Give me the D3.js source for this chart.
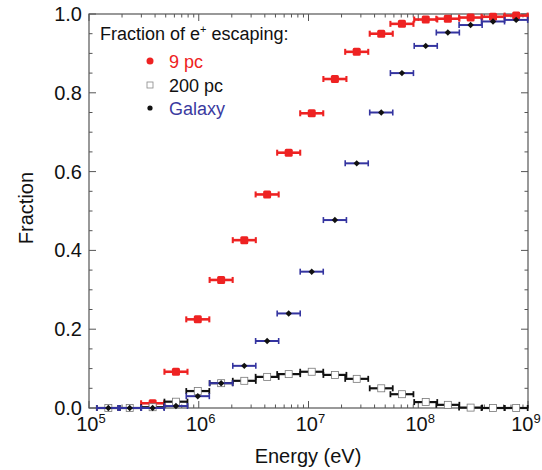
<!DOCTYPE html>
<html><head><meta charset="utf-8">
<script src="https://cdn.jsdelivr.net/npm/d3@7"></script>
<style>body{margin:0;background:#fff}svg{display:block;font-family:"Liberation Sans",Arial,sans-serif}</style>
</head><body><svg id="c" width="542" height="470"></svg>
<script>
// Bin centre energies (eV)
const energies = [1.5e5, 2.35e5, 3.8e5, 6.2e5, 9.8e5, 1.6e6, 2.6e6, 4.2e6, 6.6e6, 1.07e7, 1.74e7, 2.75e7, 4.6e7, 7.1e7, 1.17e8, 1.86e8, 3.0e8, 4.8e8, 7.8e8];
const pc9    = [null, null, 0.012, 0.092, 0.225, 0.325, 0.426, 0.542, 0.648, 0.748, 0.835, 0.904, 0.950, 0.975, 0.986, 0.988, 0.991, 0.993, 0.996];
const pc200  = [0.0, 0.0, 0.002, 0.016, 0.043, 0.063, 0.069, 0.079, 0.086, 0.092, 0.084, 0.074, 0.050, 0.035, 0.015, 0.008, 0.001, 0.0, 0.0];
const galaxy = [0.0, 0.0, 0.0, 0.005, 0.030, 0.063, 0.107, 0.170, 0.240, 0.346, 0.477, 0.621, 0.750, 0.850, 0.919, 0.953, 0.972, 0.981, 0.985];
const xTickExps = [5, 6, 7, 8, 9];
const yTicks = [0.0, 0.2, 0.4, 0.6, 0.8, 1.0];
const binHalfWidthDex = 0.105;

const svg = d3.select("#c");
const L = 89, R = 528, T = 14, B = 408;
const x = d3.scaleLog().domain([1e5, 1e9]).range([L, R]);
const y = d3.scaleLinear().domain([0, 1]).range([B, T]);

const RED = "#ee2222", BLUE = "#3434a0", BLACK = "#111";

// frame
svg.append("rect").attr("x", L).attr("y", T).attr("width", R - L).attr("height", B - T)
  .attr("fill", "none").attr("stroke", "#555").attr("stroke-width", 1.2);

// ticks (inward, all sides)
const tg = svg.append("g").attr("stroke", "#555").attr("stroke-width", 1);
const minorX = [];
for (let e = 5; e < 9; e++) for (let m = 2; m <= 9; m++) minorX.push(m * Math.pow(10, e));
xTickExps.forEach(e => {
  const px = x(Math.pow(10, e));
  tg.append("line").attr("x1", px).attr("x2", px).attr("y1", B).attr("y2", B - 7);
  tg.append("line").attr("x1", px).attr("x2", px).attr("y1", T).attr("y2", T + 7);
});
minorX.forEach(v => {
  const px = x(v);
  tg.append("line").attr("x1", px).attr("x2", px).attr("y1", B).attr("y2", B - 3.5);
  tg.append("line").attr("x1", px).attr("x2", px).attr("y1", T).attr("y2", T + 3.5);
});
d3.range(0, 1.0001, 0.05).forEach(v => {
  const py = y(v);
  const major = Math.abs(v * 5 - Math.round(v * 5)) < 1e-6;
  const len = major ? 7 : 3.5;
  tg.append("line").attr("x1", L).attr("x2", L + len).attr("y1", py).attr("y2", py);
  tg.append("line").attr("x1", R).attr("x2", R - len).attr("y1", py).attr("y2", py);
});

// y tick labels
svg.append("g").selectAll("text").data(yTicks).join("text")
  .attr("x", 82).attr("y", d => y(d) + 7).attr("text-anchor", "end")
  .attr("font-size", 20).attr("fill", "#111").text(d => d.toFixed(1));

// x tick labels 10^n
xTickExps.forEach(e => {
  const t = svg.append("text").attr("x", Math.min(x(Math.pow(10, e)) + 2, 526)).attr("y", 431)
    .attr("text-anchor", "middle").attr("font-size", 20).attr("fill", "#111");
  t.append("tspan").text("10");
  t.append("tspan").attr("font-size", 13).attr("dy", -8).text(String(e));
});

svg.append("text").attr("x", 308).attr("y", 463).attr("text-anchor", "middle")
  .attr("font-size", 20).attr("fill", "#111").text("Energy (eV)");
svg.append("text").attr("transform", "translate(33,208) rotate(-90)").attr("text-anchor", "middle")
  .attr("font-size", 20).attr("fill", "#111").text("Fraction");

// error bar drawing
function drawSeries(vals, color, sw, capH, marker) {
  const g = svg.append("g");
  energies.forEach((e, i) => {
    const v = vals[i];
    if (v === null) return;
    const x0 = x(e / Math.pow(10, binHalfWidthDex)), x1 = x(e * Math.pow(10, binHalfWidthDex));
    const py = y(v);
    g.append("line").attr("x1", x0).attr("x2", x1).attr("y1", py).attr("y2", py)
      .attr("stroke", color).attr("stroke-width", sw);
    [x0, x1].forEach(cx => g.append("line").attr("x1", cx).attr("x2", cx)
      .attr("y1", py - capH).attr("y2", py + capH).attr("stroke", color).attr("stroke-width", sw * 0.8));
    marker(g, x(e), py);
  });
}
const redMarker = (g, cx, cy) => g.append("rect").attr("x", cx - 4).attr("y", cy - 4).attr("width", 8).attr("height", 8).attr("rx", 1.5).attr("fill", RED);
const whiteSq = (g, cx, cy) => g.append("rect").attr("x", cx - 3.5).attr("y", cy - 3.5).attr("width", 7).attr("height", 7).attr("fill", "#fff").attr("stroke", "#777").attr("stroke-width", 0.8);
const blackDot = (g, cx, cy) => g.append("path").attr("d", `M${cx},${cy - 3.2}L${cx + 3.2},${cy}L${cx},${cy + 3.2}L${cx - 3.2},${cy}Z`).attr("fill", BLACK);

drawSeries(pc9, RED, 2.6, 3, redMarker);
drawSeries(pc200, BLACK, 2.2, 3, whiteSq);
drawSeries(galaxy, BLUE, 2.0, 3, blackDot);

// legend
svg.append("text").attr("x", 100).attr("y", 40).attr("font-size", 18).attr("fill", "#111")
  .call(t => { t.append("tspan").text("Fraction of e"); t.append("tspan").attr("font-size", 11).attr("dy", -7).text("+"); t.append("tspan").attr("dy", 7).text(" escaping:"); });
const legend = [
  {label: "9 pc", color: RED, cy: 61},
  {label: "200 pc", color: "#111", cy: 85},
  {label: "Galaxy", color: "#3a3aa0", cy: 108}
];
legend.forEach((d, i) => {
  if (i === 0) svg.append("circle").attr("cx", 150).attr("cy", d.cy).attr("r", 3.5).attr("fill", RED);
  if (i === 1) svg.append("rect").attr("x", 147).attr("y", d.cy - 3).attr("width", 6).attr("height", 6).attr("fill", "#fff").attr("stroke", "#888").attr("stroke-width", 0.8);
  if (i === 2) svg.append("circle").attr("cx", 150).attr("cy", d.cy).attr("r", 2.6).attr("fill", BLACK);
  svg.append("text").attr("x", 169).attr("y", d.cy + 7).attr("font-size", 18).attr("fill", d.color).text(d.label);
});
</script></body></html>
